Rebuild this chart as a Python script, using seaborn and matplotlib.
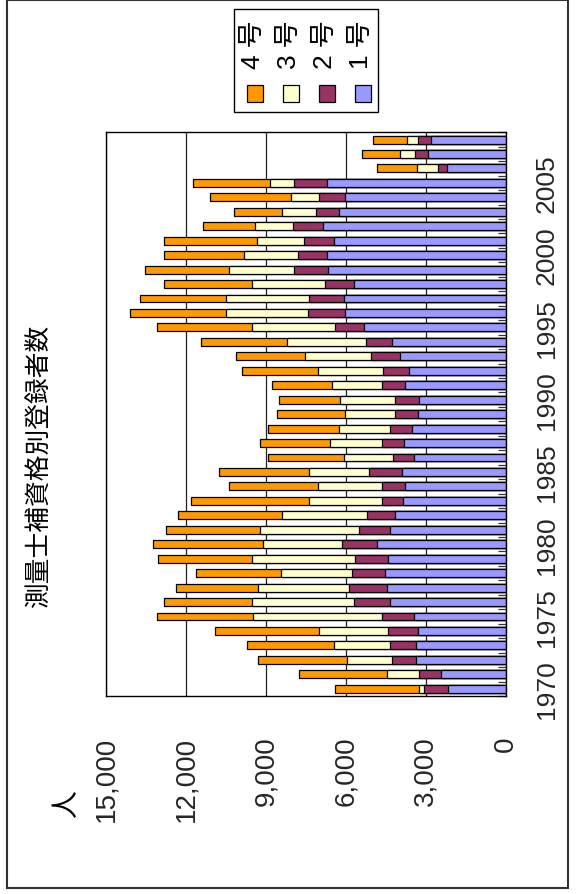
import matplotlib
matplotlib.use("Agg")
import matplotlib.pyplot as plt
import matplotlib.ticker as mticker
from matplotlib.patches import Rectangle
import numpy as np
import pandas as pd
import seaborn as sns

# 測量士補 registrations by qualification route, 1970-2008
years = list(range(1970, 2009))
grade1 = [2153, 2416, 3380, 3380, 3305, 3456, 4344, 4470, 4520, 4407,
          4845, 4332, 4144, 3844, 3769, 3881, 3443, 3831, 3506, 3305,
          3255, 3769, 3643, 3956, 4257, 5308, 6022, 6072, 5684, 6661,
          6723, 6460, 6848, 6273, 6022, 6723, 2216, 2917, 2804]
grade2 = [914, 839, 877, 964, 1102, 1201, 1340, 1414, 1252, 1239,
          1302, 1164, 1052, 813, 888, 1240, 776, 826, 838, 839,
          902, 888, 964, 1090, 976, 1090, 1390, 1302, 1114, 1289,
          1077, 1115, 1152, 838, 977, 1240, 338, 476, 476]
grade3 = [176, 1215, 1703, 2116, 2592, 4833, 3844, 3406, 2679, 3882,
          2955, 3719, 3192, 2717, 2379, 2253, 1866, 1954, 1916, 1878,
          2065, 1878, 2429, 2504, 2968, 3130, 3092, 3130, 2730, 2429,
          2003, 1777, 1415, 1277, 1076, 876, 764, 576, 426]
grade4 = [3167, 3292, 3330, 3230, 3893, 3581, 3305, 3092, 3168, 3505,
          4119, 3543, 3919, 4432, 3343, 3393, 2817, 2604, 2642, 2554,
          2304, 2229, 2842, 2566, 3217, 3543, 3606, 3218, 3305, 3155,
          3030, 3481, 1928, 1803, 3018, 2892, 1502, 1415, 1289]

series_names = ["1 号", "2 号", "3 号", "4 号"]
series_colors = ["#9999FF", "#993366", "#FFFFCC", "#FF9900"]
value_ticks = [0, 3000, 6000, 9000, 12000, 15000]
year_ticks = list(range(1970, 2006, 5))
title = "測量士補資格別登録者数"
unit = "人"

W, H = 576, 895
sns.set_theme(style="white")
plt.rcParams["font.family"] = ["Liberation Sans", "Noto Sans CJK JP", "DejaVu Sans"]

df = pd.DataFrame({
    "year": [str(y) for y in years],
    "1": grade1, "2": grade2, "3": grade3, "4": grade4,
})
# cumulative stacks, drawn from the outermost segment inwards
df["c1"] = df["1"]
df["c2"] = df["c1"] + df["2"]
df["c3"] = df["c2"] + df["3"]
df["c4"] = df["c3"] + df["4"]
order = [str(y) for y in years[::-1]]

fig = plt.figure(figsize=(W / 100, H / 100), dpi=100)
fig.patch.set_facecolor("white")


def px_box(x0, y0, x1, y1):
    return [x0 / W, 1 - y1 / H, (x1 - x0) / W, (y1 - y0) / H]


ax = fig.add_axes(px_box(106, 133.3, 505.7, 697))
ax.set_facecolor("white")

for col, color in zip(["c4", "c3", "c2", "c1"], series_colors[::-1]):
    sns.barplot(data=df, x=col, y="year", order=order, orient="h",
                color=color, saturation=1, edgecolor="black", linewidth=0.9,
                width=0.55, errorbar=None, ax=ax, zorder=3)

ax.set_xlim(15000, 0)
ax.set_ylim(len(order) - 0.5, -0.5)
ax.set_xlabel("")
ax.set_ylabel("")

# value axis along the bottom
ax.xaxis.set_major_locator(mticker.FixedLocator(value_ticks))
ax.xaxis.set_major_formatter(mticker.FuncFormatter(lambda v, p: f"{int(v):,}"))
ax.tick_params(axis="x", length=0, pad=28.5, labelsize=20, labelrotation=90)
for t in ax.get_xticklabels():
    t.set_ha("center")
    t.set_va("top")
ax.grid(axis="x", color="#222222", linewidth=0.9, zorder=0)
ax.grid(axis="y", visible=False)

# year axis on the right
ax.yaxis.tick_right()
ax.yaxis.set_major_locator(mticker.FixedLocator([order.index(str(y)) for y in year_ticks]))
ax.yaxis.set_major_formatter(mticker.FixedFormatter([str(y) for y in year_ticks]))
ax.yaxis.set_minor_locator(mticker.FixedLocator(np.arange(-0.5, len(order), 1.0)))
ax.tick_params(axis="y", which="major", length=0, pad=21, labelsize=19,
               labelrotation=90, right=True, left=False, labelright=True, labelleft=False)
ax.tick_params(axis="y", which="minor", direction="in", length=5.5, width=0.9,
               color="#333333", right=True, left=False)
for t in ax.get_yticklabels():
    t.set_ha("left")
    t.set_va("center")

for s in ax.spines.values():
    s.set_visible(True)
    s.set_color("black")
    s.set_linewidth(1.0)
    s.set_zorder(5)

# title and unit
fig.text(40 / W, 1 - 466 / H, title, rotation=90, ha="center", va="center",
         fontsize=18.5, family=["Noto Sans CJK JP"], color="black")
fig.text(66 / W, 1 - 804 / H, unit, rotation=90, ha="center", va="center",
         fontsize=20, family=["Noto Sans CJK JP"], color="black")

# legend box across the top
fig.add_artist(Rectangle((234 / W, 1 - 113 / H), (378 - 234) / W, (113 - 10) / H,
                         transform=fig.transFigure, facecolor="white",
                         edgecolor="black", linewidth=1.0))
leg_x = [255, 291, 327, 363]
for cx, name, color in zip(leg_x, series_names[::-1], series_colors[::-1]):
    fig.add_artist(Rectangle(((cx - 8) / W, 1 - 103 / H), 16 / W, 17 / H,
                             transform=fig.transFigure, facecolor=color,
                             edgecolor="black", linewidth=0.9))
    fig.text((cx - 2) / W, 1 - 45 / H, name, rotation=90, ha="center", va="center",
             fontsize=19, color="black")

# outer frame
fig.add_artist(Rectangle((6.6 / W, 1 - 889 / H), (568 - 6.6) / W, (889 - 1) / H,
                         transform=fig.transFigure, fill=False,
                         edgecolor="#333333", linewidth=1.5))

fig.savefig("out.png", dpi=100, facecolor="white")
